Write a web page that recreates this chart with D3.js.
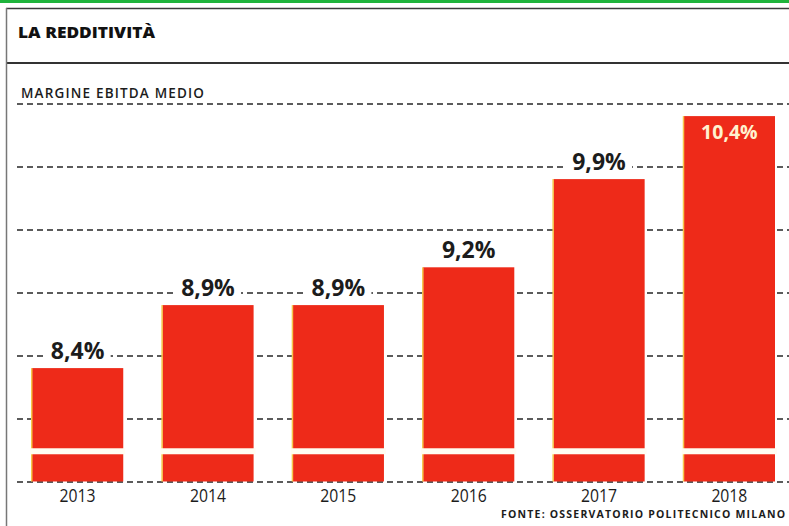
<!DOCTYPE html>
<html>
<head>
<meta charset="utf-8">
<script src="https://d3js.org/d3.v7.min.js"></script>
<style>
  body { margin: 0; background: #fff; }
  svg { display: block; }
  .grid line { stroke: #262626; stroke-width: 1.3; stroke-dasharray: 6,4; }
</style>
</head>
<body>
<svg id="chart_svg" width="789" height="526"></svg>
<script>
// data
var years = ["2013", "2014", "2015", "2016", "2017", "2018"];
var margins = [8.4, 8.9, 8.9, 9.2, 9.9, 10.4];
var labels = ["8,4%", "8,9%", "8,9%", "9,2%", "9,9%", "10,4%"];
var gridValues = [7.5, 8, 8.5, 9, 9.5, 10, 10.5];
var breakValue = 7.74; // where the axis is cut (white strip across the bars)

var svg = d3.select("#chart_svg");
var width = +svg.attr("width");
var height = +svg.attr("height");

var ink = "#1c1c1c";
var red = "#ee2a19";

var x = d3.scaleBand()
    .domain(years)
    .range([32, 775])
    .paddingInner(0.3)
    .paddingOuter(0);

var y = d3.scaleLinear()
    .domain([7.5, 10.5])
    .range([481.5, 103.5]);

// frame: green scan edge, top rule, title rule, left rule
svg.append("rect").attr("x", 0).attr("y", 0).attr("width", width).attr("height", 3).attr("fill", "#1fb43c");
svg.append("line").attr("x1", 6).attr("x2", width).attr("y1", 8.5).attr("y2", 8.5)
    .attr("stroke", "#3a3a3a").attr("stroke-width", 1.5);
svg.append("line").attr("x1", 6).attr("x2", width).attr("y1", 63).attr("y2", 63)
    .attr("stroke", "#333").attr("stroke-width", 2);
svg.append("line").attr("x1", 6.5).attr("x2", 6.5).attr("y1", 8).attr("y2", height)
    .attr("stroke", "#777").attr("stroke-width", 1.5);

svg.append("text")
    .attr("x", 18).attr("y", 37.5)
    .attr("font-family", "'Open Sans', sans-serif")
    .attr("font-weight", 800)
    .attr("font-size", 16.5)
    .attr("textLength", 137)
    .attr("lengthAdjust", "spacingAndGlyphs")
    .attr("fill", "#111")
    .text("LA REDDITIVITÀ");

svg.append("text")
    .attr("x", 21).attr("y", 98)
    .attr("font-family", "'Open Sans', sans-serif")
    .attr("font-weight", 600)
    .attr("font-size", 13.5)
    .attr("textLength", 183)
    .attr("lengthAdjust", "spacing")
    .attr("fill", ink)
    .text("MARGINE EBITDA MEDIO");

// dashed gridlines
var yAxis = d3.axisRight(y)
    .tickValues(gridValues)
    .tickSize(width - 17)
    .tickFormat("");

var gy = svg.append("g")
    .attr("class", "grid")
    .attr("transform", "translate(17,0)")
    .call(yAxis);
gy.select(".domain").remove();

// bars
var bars = svg.selectAll(".bar").data(margins).enter().append("g").attr("class", "bar");

bars.append("rect")
    .attr("x", function(d, i){ return x(years[i]); })
    .attr("y", function(d){ return y(d); })
    .attr("width", x.bandwidth())
    .attr("height", function(d){ return y(7.5) - y(d); })
    .attr("fill", red);

// thin yellow misregistration on the left edge of each bar
bars.append("rect")
    .attr("x", function(d, i){ return x(years[i]) - 1; })
    .attr("y", function(d){ return y(d); })
    .attr("width", 1.5)
    .attr("height", function(d){ return y(7.5) - y(d); })
    .attr("fill", "#f6c64a");

// axis break strip
bars.append("rect")
    .attr("x", function(d, i){ return x(years[i]) - 2; })
    .attr("y", y(breakValue) - 3)
    .attr("width", x.bandwidth() + 4)
    .attr("height", 6)
    .attr("fill", "#fffdf2");

// value labels
var valueLabels = svg.selectAll(".value").data(margins).enter().append("g").attr("class", "value");

valueLabels.each(function(d, i){
  var g = d3.select(this);
  var inside = i === margins.length - 1;
  var cx = x(years[i]) + x.bandwidth() / 2;
  var t = g.append("text")
      .attr("x", cx)
      .attr("y", inside ? y(d) + 23 : y(d) - 9.5)
      .attr("text-anchor", "middle")
      .attr("font-family", "'Open Sans', sans-serif")
      .attr("font-weight", 700)
      .attr("font-size", inside ? 19.5 : 23)
      .attr("fill", inside ? "#fff2cf" : ink)
      .text(labels[i]);
  if(!inside){
    var bb = t.node().getBBox();
    g.insert("rect", "text")
      .attr("x", bb.x - 6)
      .attr("y", bb.y + 4)
      .attr("width", bb.width + 12)
      .attr("height", bb.height - 6)
      .attr("fill", "#fff");
  }
});

// year labels
svg.selectAll(".year").data(years).enter().append("text")
    .attr("class", "year")
    .attr("x", function(d){ return x(d) + x.bandwidth() / 2; })
    .attr("y", 501.5)
    .attr("text-anchor", "middle")
    .attr("font-family", "'Open Sans', sans-serif")
    .attr("font-size", 17.5)
    .attr("textLength", 36)
    .attr("lengthAdjust", "spacingAndGlyphs")
    .attr("fill", ink)
    .text(function(d){ return d; });

svg.append("text")
    .attr("x", 501).attr("y", 517.5)
    .attr("font-family", "'Open Sans', sans-serif")
    .attr("font-weight", 700)
    .attr("font-size", 10.5)
    .attr("textLength", 284)
    .attr("lengthAdjust", "spacing")
    .attr("fill", ink)
    .text("FONTE: OSSERVATORIO POLITECNICO MILANO");
</script>
</body>
</html>
